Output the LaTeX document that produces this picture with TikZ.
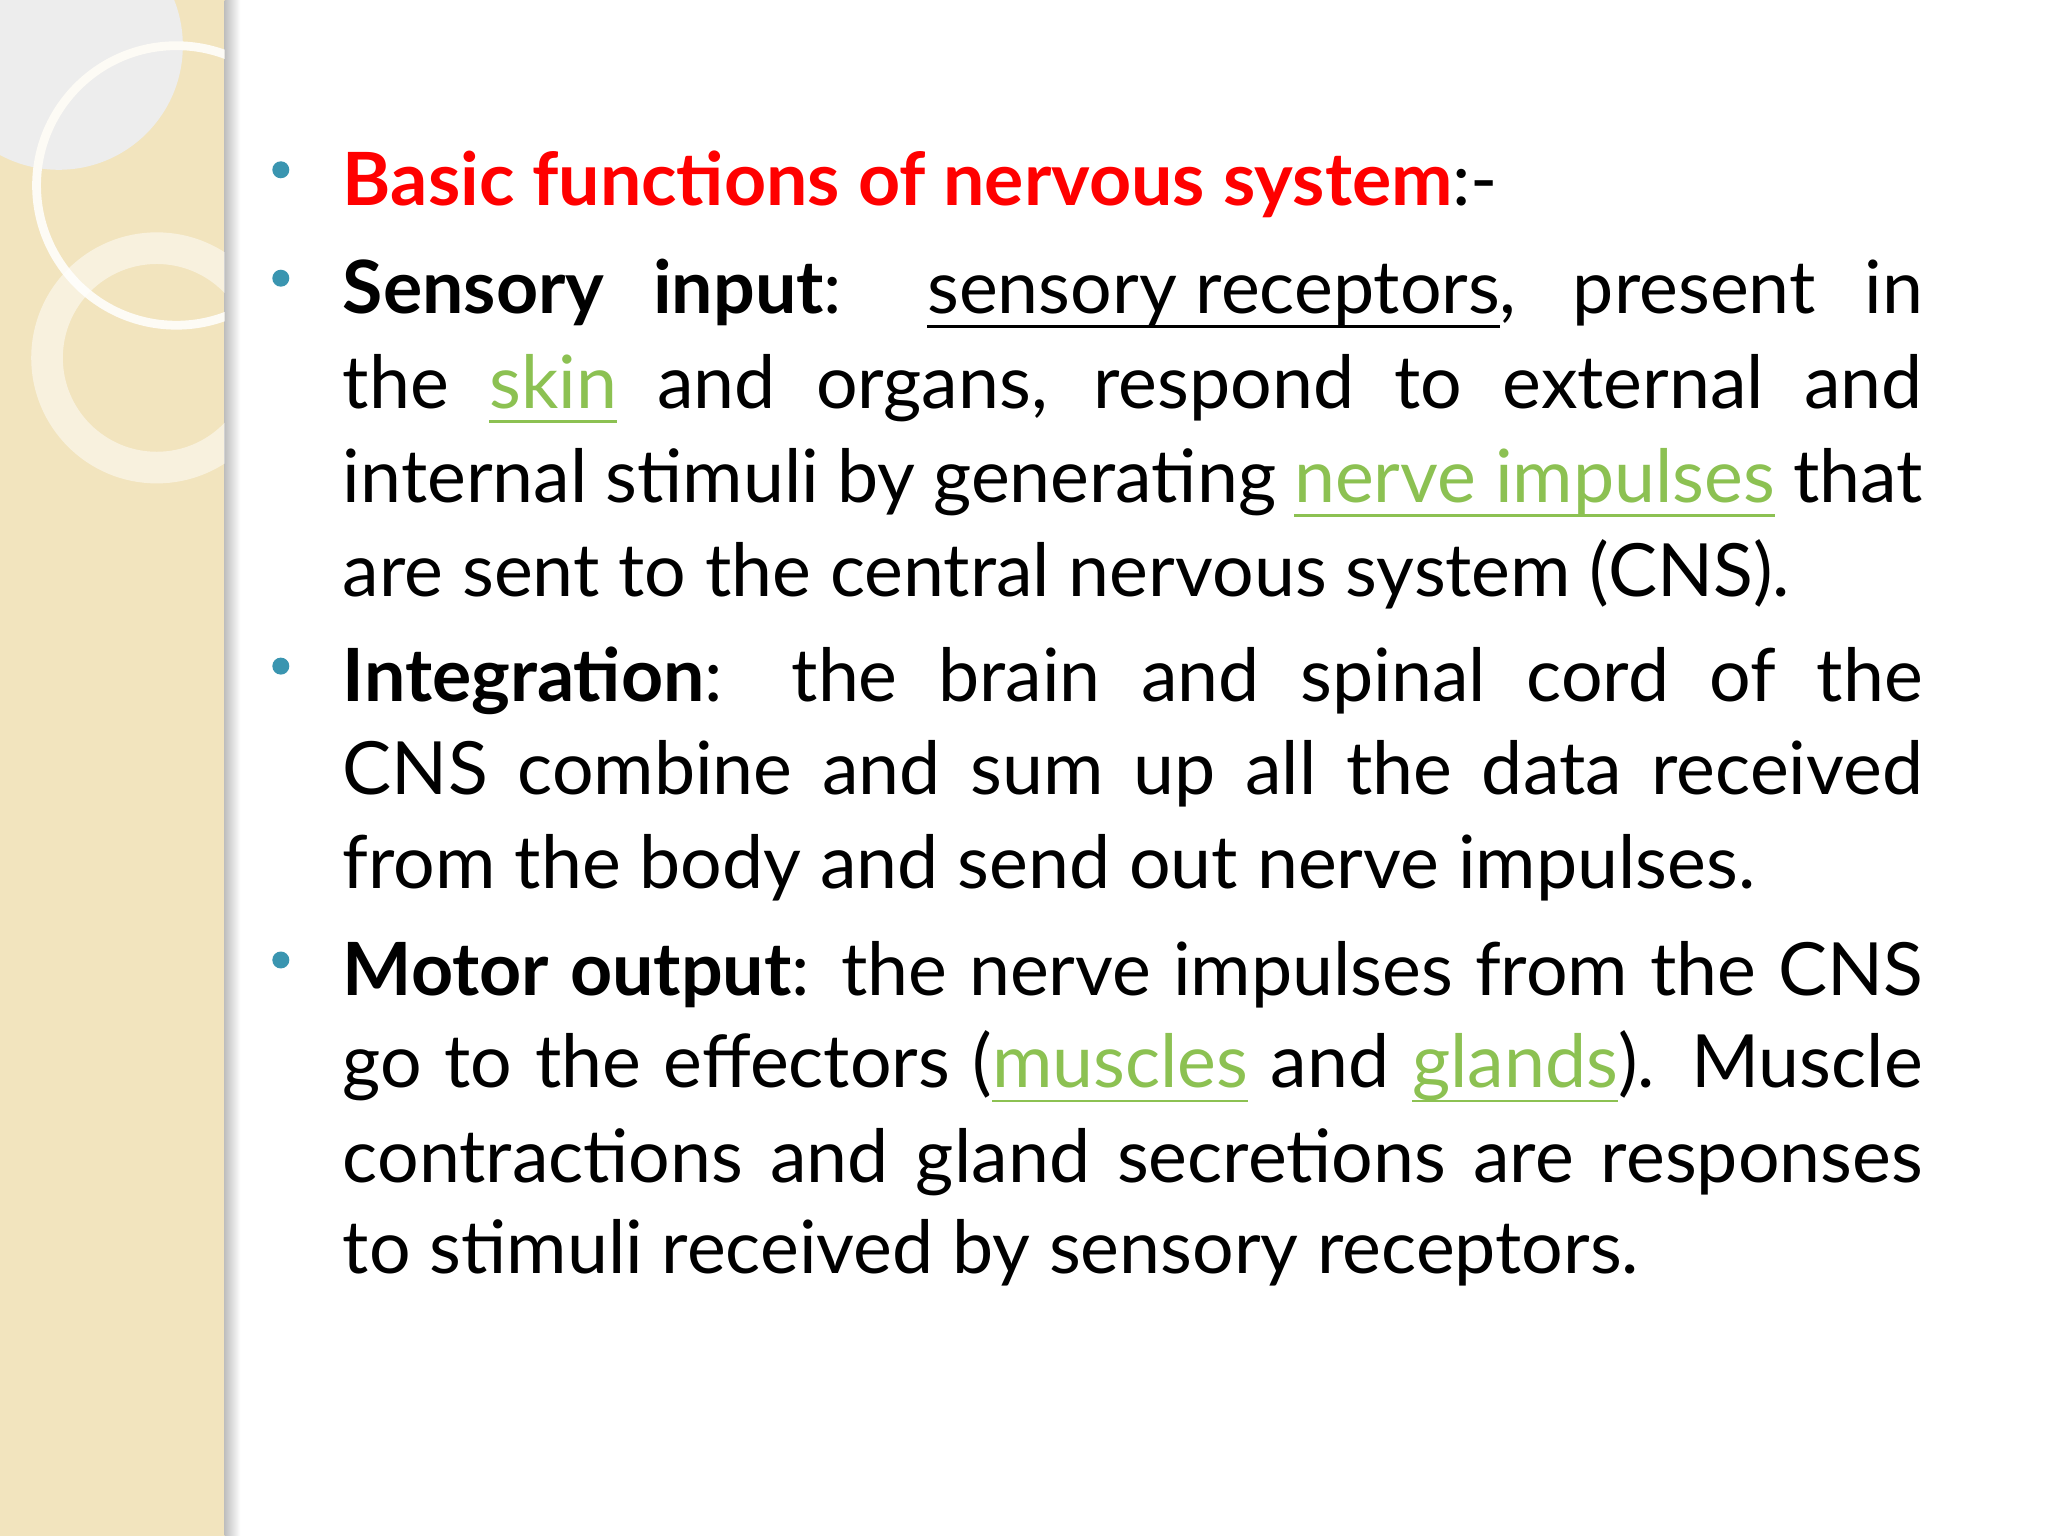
\documentclass[tikz,border=0pt]{standalone}
\usepackage{fontspec}
\setmainfont{Lato}
\definecolor{band}{HTML}{F2E4BE}
\definecolor{bul}{HTML}{3A95B0}
\definecolor{lnk}{HTML}{8CC152}
\definecolor{hd}{HTML}{FF0000}
\newcommand{\myul}[1]{\leavevmode\setbox0\hbox{#1}\rlap{\raisebox{-4pt}{\rule{\wd0}{0.7pt}}}\box0}
\newcommand{\gl}[1]{{\color{lnk}\myul{#1}}}
\begin{document}
\begin{tikzpicture}[x=0.013061cm,y=-0.013061cm,
  ln/.style={anchor=base west,inner sep=0pt,font=\fontsize{20.9}{24}\selectfont},
  dot/.style={fill=bul,draw=none}]
\useasboundingbox (0,0) rectangle (1568,1176);
\fill[white] (0,0) rectangle (1568,1176);
\fill[band] (0,0) rectangle (172,1176);
\shade[left color=black!25,right color=white] (172,0) rectangle (184,1176);
\begin{scope}
\clip (0,0) rectangle (172,1176);
\fill[black!7] (45,35) circle (95);
\draw[white!85!band,line width=2.5pt] (135,142) circle (107);
\draw[white,opacity=0.5,line width=9pt] (120,274) circle (84);
\end{scope}
\foreach \y in {130,213,510,735} \fill[dot] (215,\y) circle (6.5);
\def\W{15.80cm}
\node[ln] (l1) at (262,157) {{\color{hd}\bfseries Basic functions of nervous system}:-};
\node[ln] (l2) at (262,240) {\makebox[\W][s]{\textbf{Sensory} \textbf{input}: \myul{sensory receptors}, present in}};
\node[ln] (l3) at (262,313) {\makebox[\W][s]{the \gl{skin} and organs, respond to external and}};
\node[ln] (l4) at (262,385) {\makebox[\W][s]{internal stimuli by generating \gl{nerve impulses} that}};
\node[ln] (l5) at (262,457) {are sent to the central nervous system (CNS).};
\node[ln] (l6) at (262,537) {\makebox[\W][s]{\textbf{Integration}: the brain and spinal cord of the}};
\node[ln] (l7) at (262,608) {\makebox[\W][s]{CNS combine and sum up all the data received}};
\node[ln] (l8) at (262,680) {from the body and send out nerve impulses.};
\node[ln] (l9) at (262,762) {\makebox[\W][s]{\textbf{Motor output}: the nerve impulses from the CNS}};
\node[ln] (l10) at (262,833) {\makebox[\W][s]{go to the effectors (\gl{muscles} and \gl{glands}). Muscle}};
\node[ln] (l11) at (262,905) {\makebox[\W][s]{contractions and gland secretions are responses}};
\node[ln] (l12) at (262,975) {to stimuli received by sensory receptors.};
\end{tikzpicture}
\end{document}
